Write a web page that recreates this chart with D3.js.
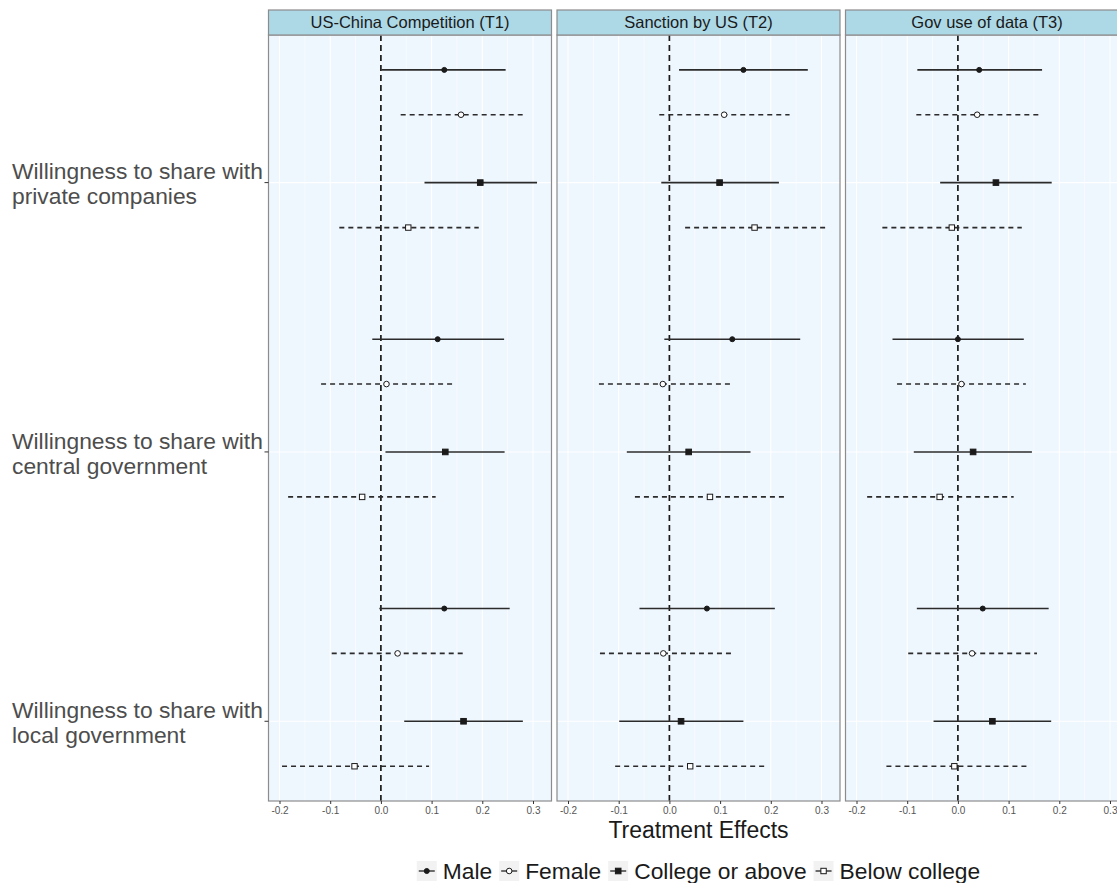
<!DOCTYPE html>
<html>
<head>
<meta charset="utf-8">
<script src="https://cdn.jsdelivr.net/npm/d3@7"></script>
<style>
  body { margin: 0; background: #fff; }
  svg { display: block; font-family: "Liberation Sans", Arial, sans-serif; }
</style>
</head>
<body>
<svg id="chart" width="1117" height="883"></svg>
<script>
// ---- data ----
const panels = ['US-China Competition (T1)', 'Sanction by US (T2)', 'Gov use of data (T3)'];
const outcomes = [
  ['Willingness to share with', 'private companies'],
  ['Willingness to share with', 'central government'],
  ['Willingness to share with', 'local government']
];
const subgroups = ['Male', 'Female', 'College or above', 'Below college'];
const xTicks = [-0.2, -0.1, 0.0, 0.1, 0.2, 0.3];

// rows: outcome x subgroup (private M,F,C,B, central M,F,C,B, local M,F,C,B)
const estT1  = [0.125, 0.158, 0.196, 0.054,  0.112, 0.011, 0.127, -0.037,  0.125, 0.033, 0.163, -0.052];
const lowT1  = [0.001, 0.039, 0.086, -0.082, -0.017, -0.118, 0.009, -0.183, -0.003, -0.097, 0.046, -0.195];
const highT1 = [0.246, 0.281, 0.308, 0.193,  0.243, 0.141, 0.244, 0.108,  0.254, 0.162, 0.280, 0.095];

const estT2  = [0.146, 0.108, 0.099, 0.168,  0.124, -0.013, 0.038, 0.080,  0.074, -0.012, 0.023, 0.041];
const lowT2  = [0.019, -0.020, -0.016, 0.031, -0.010, -0.139, -0.084, -0.068, -0.059, -0.137, -0.099, -0.107];
const highT2 = [0.273, 0.237, 0.216, 0.312,  0.258, 0.123, 0.160, 0.232,  0.208, 0.124, 0.146, 0.193];

const estT3  = [0.042, 0.038, 0.075, -0.012, 0.000, 0.007, 0.030, -0.036,  0.049, 0.028, 0.068, -0.007];
const lowT3  = [-0.080, -0.082, -0.035, -0.149, -0.129, -0.120, -0.087, -0.179, -0.081, -0.098, -0.048, -0.141];
const highT3 = [0.166, 0.159, 0.185, 0.126,  0.130, 0.134, 0.146, 0.110,  0.179, 0.156, 0.184, 0.138];

const estimates = [estT1, estT2, estT3];
const lows      = [lowT1, lowT2, lowT3];
const highs     = [highT1, highT2, highT3];

// ---- layout ----
const svg = d3.select('#chart');
const panelW = 283, panelGap = 5.5, panelLeft = 268.5;
const panelTop = 35, panelBottom = 801, stripH = 25;
const dodge = [0.4185, 0.252, 0, -0.167];   // vertical dodge per subgroup
const solid  = { Male: true,  Female: false, 'College or above': true, 'Below college': false };
const square = { Male: false, Female: false, 'College or above': true, 'Below college': true };
const filled = { Male: true,  Female: false, 'College or above': true, 'Below college': false };
const ink = '#1a1a1a';

const x = d3.scaleLinear().domain([-0.2217, 0.3365]).range([0, panelW]);
const y = d3.scaleLinear().domain([0.704, 3.548]).range([panelBottom, panelTop]);
const groupPos = i => 3 - i;

function marker(sel, sg, cx, cy) {
  const fill = filled[sg] ? ink : '#fff';
  if (square[sg]) {
    const s = filled[sg] ? 5.6 : 5.4;
    sel.append('rect').attr('x', cx - s / 2).attr('y', cy - s / 2)
      .attr('width', s).attr('height', s)
      .attr('fill', fill).attr('stroke', ink).attr('stroke-width', 1);
  } else {
    sel.append('circle').attr('cx', cx).attr('cy', cy).attr('r', filled[sg] ? 2.5 : 2.8)
      .attr('fill', fill).attr('stroke', ink).attr('stroke-width', 1);
  }
}

panels.forEach((title, p) => {
  const g = svg.append('g')
    .attr('transform', `translate(${panelLeft + p * (panelW + panelGap)},0)`);

  // panel background
  g.append('rect').attr('x', 0).attr('y', panelTop)
    .attr('width', panelW).attr('height', panelBottom - panelTop)
    .attr('fill', '#eef6fe');

  // minor + major vertical grid
  const minor = d3.range(-0.25, 0.36, 0.1).map(v => +v.toFixed(2));
  g.selectAll('line.minor').data(minor.filter(v => x(v) > 0 && x(v) < panelW)).join('line')
    .attr('x1', d => x(d)).attr('x2', d => x(d))
    .attr('y1', panelTop).attr('y2', panelBottom)
    .attr('stroke', '#fff').attr('stroke-width', 0.6);
  g.selectAll('line.major').data(xTicks).join('line')
    .attr('x1', d => x(d)).attr('x2', d => x(d))
    .attr('y1', panelTop).attr('y2', panelBottom)
    .attr('stroke', '#fff').attr('stroke-width', 1.1);
  // horizontal grid at outcome positions
  g.selectAll('line.hgrid').data(outcomes).join('line')
    .attr('x1', 0).attr('x2', panelW)
    .attr('y1', (d, i) => y(groupPos(i))).attr('y2', (d, i) => y(groupPos(i)))
    .attr('stroke', '#fff').attr('stroke-width', 1.1);

  // zero reference
  g.append('line')
    .attr('x1', x(0)).attr('x2', x(0))
    .attr('y1', panelTop).attr('y2', panelBottom)
    .attr('stroke', ink).attr('stroke-width', 1.7)
    .attr('stroke-dasharray', '6,4');

  // intervals and points
  outcomes.forEach((o, i) => {
    subgroups.forEach((sg, k) => {
      const r = i * 4 + k;
      const cy = y(groupPos(i) + dodge[k]);
      g.append('line')
        .attr('x1', x(lows[p][r])).attr('x2', x(highs[p][r]))
        .attr('y1', cy).attr('y2', cy)
        .attr('stroke', '#2b2b2b').attr('stroke-width', 1.6)
        .attr('stroke-dasharray', solid[sg] ? null : '5,4');
      marker(g, sg, x(estimates[p][r]), cy);
    });
  });

  // panel border
  g.append('rect').attr('x', 0).attr('y', panelTop)
    .attr('width', panelW).attr('height', panelBottom - panelTop)
    .attr('fill', 'none').attr('stroke', '#8c8c8c').attr('stroke-width', 1.2);

  // strip
  g.append('rect').attr('x', 0).attr('y', panelTop - stripH)
    .attr('width', panelW).attr('height', stripH)
    .attr('fill', '#add8e6').attr('stroke', '#8c8c8c').attr('stroke-width', 1.2);
  g.append('text')
    .attr('x', panelW / 2).attr('y', panelTop - stripH / 2)
    .attr('dy', '0.36em').attr('text-anchor', 'middle')
    .attr('font-size', 16.5).attr('fill', ink)
    .text(title);

  // x axis (plain hyphen minus, as in the original)
  const ax = g.append('g').attr('transform', `translate(0,${panelBottom})`)
    .call(d3.axisBottom(x).tickValues(xTicks).tickFormat(d => d.toFixed(1)).tickSize(3).tickPadding(3));
  ax.select('.domain').remove();
  ax.selectAll('line').attr('stroke', '#333');
  ax.selectAll('text').attr('font-size', 10).attr('fill', '#555')
    .attr('font-family', '"Liberation Sans", Arial, sans-serif');
});

// y axis (left of first panel)
const ay = svg.append('g').attr('transform', `translate(${panelLeft},0)`);
outcomes.forEach((lines, i) => {
  const cy = y(groupPos(i));
  ay.append('line').attr('x1', -4).attr('x2', 0).attr('y1', cy).attr('y2', cy)
    .attr('stroke', '#333');
  const t = svg.append('text')
    .attr('x', 12).attr('y', cy - 11.5)
    .attr('font-size', 22.8).attr('fill', '#4d4d4d');
  lines.forEach((ln, j) => {
    t.append('tspan').attr('x', 12).attr('dy', j === 0 ? '0.36em' : '1.1em').text(ln);
  });
});

// x axis title
const centerX = panelLeft + (3 * panelW + 2 * panelGap) / 2;
svg.append('text')
  .attr('x', centerX).attr('y', 838)
  .attr('text-anchor', 'middle').attr('font-size', 23).attr('fill', ink)
  .text('Treatment Effects');

// legend
const legend = svg.append('g').attr('transform', 'translate(0,871)');
let lx = 0;
const items = legend.append('g');
subgroups.forEach(sg => {
  const it = items.append('g').attr('transform', `translate(${lx},0)`);
  it.append('rect').attr('x', 0).attr('y', -10).attr('width', 20).attr('height', 20)
    .attr('fill', '#f2f2f2');
  it.append('line').attr('x1', 2).attr('x2', 18).attr('y1', 0).attr('y2', 0)
    .attr('stroke', '#333').attr('stroke-width', 1.4);
  marker(it, sg, 10, 0);
  const txt = it.append('text').attr('x', 26).attr('y', 0).attr('dy', '0.36em')
    .attr('font-size', 22.8).attr('fill', ink).text(sg);
  lx += 26 + txt.node().getComputedTextLength() + 7;
});
const legendW = lx - 7;
items.attr('transform', `translate(${centerX - legendW / 2},0)`);
</script>
</body>
</html>
